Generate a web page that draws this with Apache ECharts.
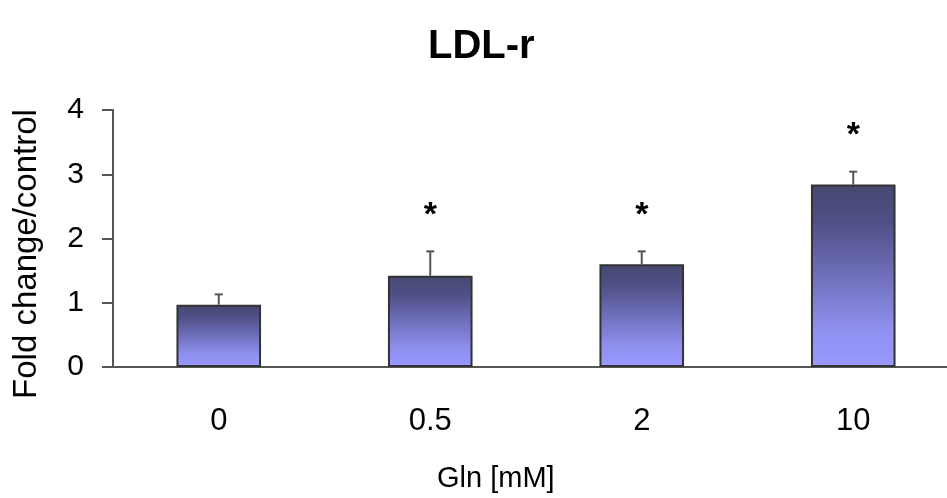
<!DOCTYPE html>
<html>
<head>
<meta charset="utf-8">
<script src="https://cdn.jsdelivr.net/npm/echarts@6/dist/echarts.min.js"></script>
<style>
html,body{margin:0;padding:0;background:#fff;overflow:hidden}
#chart{width:959px;height:498px}
</style>
</head>
<body>
<div id="chart"></div>
<script>
// Gln concentration groups
var categories = ['0', '0.5', '2', '10'];
var foldChange = [0.97, 1.42, 1.60, 2.84];
var errUp = [0.16, 0.38, 0.20, 0.20];
var stars = ['', '*', '*', '*'];
var yTicks = [0, 1, 2, 3, 4];

var chart = echarts.init(document.getElementById('chart'));
var font = 'Liberation Sans, Arial, sans-serif';

var errData = categories.map(function (c, i) {
  return [i, foldChange[i], foldChange[i] + errUp[i], stars[i]];
});

var option = {
  animation: false,
  title: {
    text: 'LDL-r',
    left: 423,
    top: 22,
    textStyle: { fontFamily: font, fontSize: 40, fontWeight: 'bold', color: '#000' }
  },
  graphic: [{
    type: 'text',
    left: 437,
    top: 464,
    style: { text: 'Gln [mM]', font: '29px ' + font, fill: '#000' }
  }, {
    // y axis title, placed a bit below the plot centre like the original
    type: 'text',
    x: 27,
    y: 254,
    rotation: Math.PI / 2,
    style: { text: 'Fold change/control', font: '33px ' + font, fill: '#000', align: 'center', verticalAlign: 'middle' }
  }],
  grid: { left: 113, right: 0, top: 110, bottom: 131, outerBoundsMode: 'none', containLabel: false },
  xAxis: {
    type: 'category',
    data: categories,
    axisLine: { lineStyle: { color: '#555', width: 2 } },
    axisTick: { show: false },
    axisLabel: { color: '#000', fontSize: 31, fontFamily: font, margin: 39 }
  },
  yAxis: {
    type: 'value',
    min: yTicks[0],
    max: yTicks[yTicks.length - 1],
    interval: 1,
    axisLine: { show: true, lineStyle: { color: '#555', width: 2 } },
    axisTick: { show: true, length: 11, lineStyle: { color: '#555', width: 2 } },
    axisLabel: { color: '#000', fontSize: 30, fontFamily: font, margin: 29 },
    splitLine: { show: false }
  },
  series: [
    {
      type: 'bar',
      data: foldChange,
      barWidth: '40%',
      itemStyle: {
        borderColor: '#333',
        borderWidth: 2,
        color: new echarts.graphic.LinearGradient(0, 0, 0, 1, [
          { offset: 0, color: '#46486f' },
          { offset: 0.2, color: '#4f4f86' },
          { offset: 0.5, color: '#6f6fbb' },
          { offset: 0.8, color: '#9090f0' },
          { offset: 1, color: '#9999ff' }
        ])
      },
      z: 2
    },
    {
      type: 'custom',
      data: errData,
      z: 3,
      renderItem: function (params, api) {
        var lo = api.coord([api.value(0), api.value(1)]);
        var hi = api.coord([api.value(0), api.value(2)]);
        var cap = 4;
        var children = [
          { type: 'line', shape: { x1: lo[0], y1: lo[1], x2: hi[0], y2: hi[1] }, style: { stroke: '#555', lineWidth: 2 } },
          { type: 'line', shape: { x1: hi[0] - cap, y1: hi[1], x2: hi[0] + cap, y2: hi[1] }, style: { stroke: '#555', lineWidth: 2 } }
        ];
        var s = stars[params.dataIndex];
        if (s) {
          children.push({
            type: 'text',
            x: hi[0],
            y: hi[1] - 36,
            style: { text: s, font: 'bold 34px ' + font, fill: '#000', align: 'center', verticalAlign: 'middle' }
          });
        }
        return { type: 'group', children: children };
      }
    }
  ]
};
chart.setOption(option);
</script>
</body>
</html>
